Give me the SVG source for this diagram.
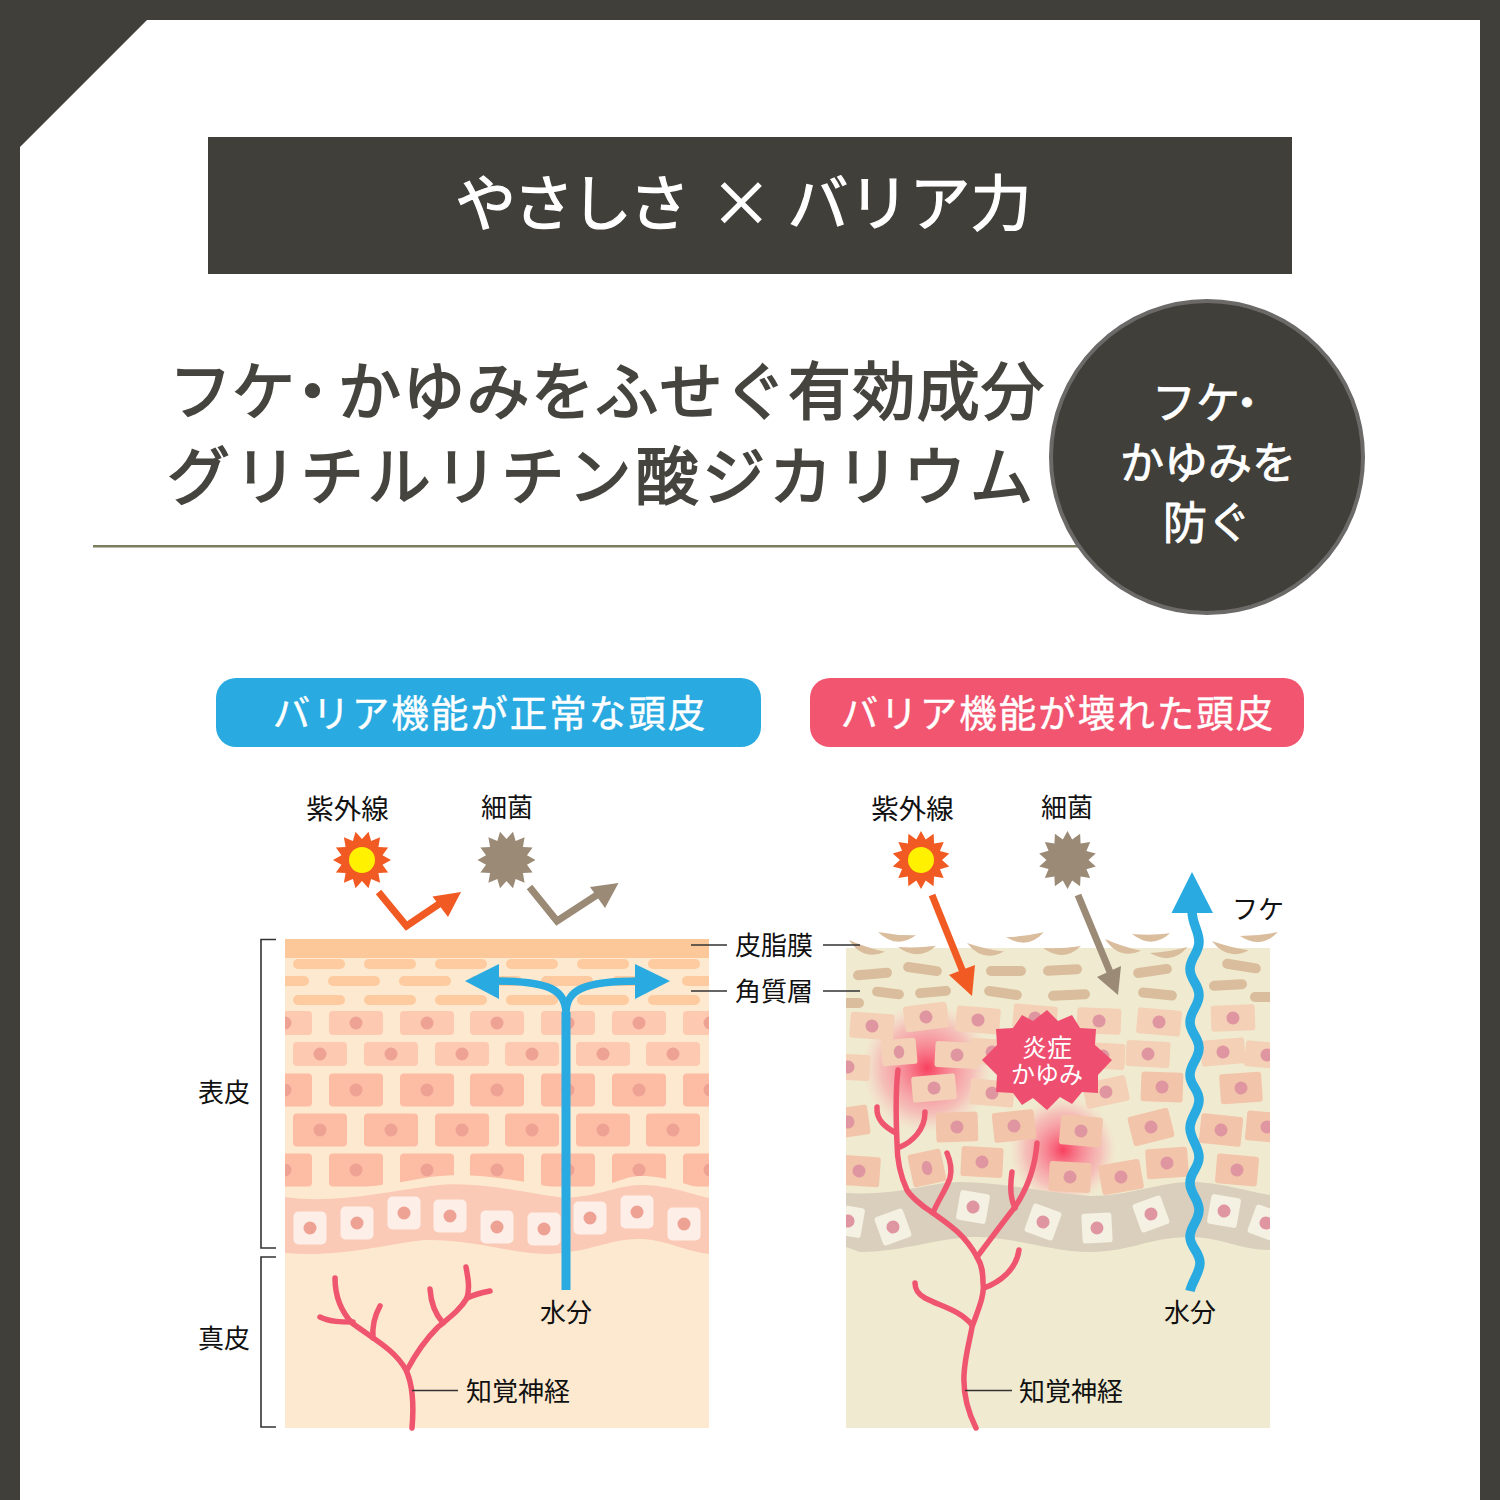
<svg xmlns="http://www.w3.org/2000/svg" width="1500" height="1500" viewBox="0 0 1500 1500">
<style>
text{font-family:"Noto Sans CJK JP","Noto Sans",sans-serif}
.lb{font-size:26px;fill:#111;text-anchor:middle}
.lw{font-size:27.5px}
.hd{font-size:63px;fill:#45443e;stroke:#45443e;stroke-width:1.8px}
.ci{font-size:44px;fill:#fff;stroke:#fff;stroke-width:.8px}
.pl{font-size:37.500px;fill:#fff;text-anchor:middle;letter-spacing:2px;stroke:#fff;stroke-width:.4px}
.ln{stroke:#333;stroke-width:1.6;fill:none}
.nv{stroke:#f0556f;stroke-width:5.500;fill:none;stroke-linecap:round;stroke-linejoin:round}
.s1{fill:#fdcb9f}
.s2{fill:#d9bd9c}
.c1{fill:#fdc9b1}
.c2{fill:#fdbca4}
.n1{fill:#eea294}
.r1{fill:#f3d0b6}
.r2{fill:#f2c5aa}
.n2{fill:#e096a1}
.w1{fill:#fdeee8}
.w2{fill:#f4f0e2}
</style>
<defs>
<clipPath id="pL"><rect x="285" y="939" width="424" height="489"/></clipPath>
<clipPath id="pR"><rect x="846" y="948" width="424" height="480"/></clipPath>
<polygon id="star" points="29,0 20.5,4.700 26.100,12.600 16.400,13.100 18.100,22.700 9.100,18.900 6.500,28.300 0,21 -6.500,28.300 -9.100,18.900 -18.100,22.700 -16.400,13.100 -26.100,12.600 -20.500,4.700 -29,0 -20.500,-4.700 -26.100,-12.600 -16.400,-13.100 -18.100,-22.700 -9.100,-18.900 -6.500,-28.300 0,-21 6.500,-28.300 9.100,-18.900 18.100,-22.700 16.400,-13.100 26.100,-12.600 20.500,-4.700"/>
<rect id="st" x="0" y="0" width="52" height="10" rx="5"/>
<g id="cA"><rect x="-27" y="-12" width="54" height="24" rx="4" class="c1"/><circle r="6.500" class="n1"/></g>
<g id="cB"><rect x="-27" y="-16.500" width="54" height="33" rx="4" class="c2"/><circle r="6.500" class="n1"/></g>
<g id="wL"><rect x="-16.500" y="-16.500" width="33" height="33" rx="5" class="w1"/><circle r="6.500" class="n1"/></g>
<g id="rA"><rect x="-22" y="-13" width="44" height="26" rx="3" class="r1"/><circle r="6.500" class="n2"/></g>
<g id="rB"><rect x="-21" y="-15" width="42" height="30" rx="3" class="r2"/><circle r="6.500" class="n2"/></g>
<g id="wR"><rect x="-15" y="-15" width="30" height="30" rx="3" class="w2"/><circle r="6.500" class="n2"/></g>
<path id="fl" d="M0,0 Q19,17 38,2 Q19,3 0,0Z"/>
<radialGradient id="gw"><stop offset="0" stop-color="#f8405f"/><stop offset=".3" stop-color="#f9607c" stop-opacity=".75"/><stop offset=".7" stop-color="#fb8a9c" stop-opacity=".45"/><stop offset="1" stop-color="#fbb" stop-opacity="0"/></radialGradient>
</defs>

<rect id="frame" width="1500" height="1500" fill="#403f39"/>
<polygon id="sheet" points="147,20 1480,20 1480,1500 20,1500 20,147" fill="#fff"/>

<g id="banner">
<rect x="208" y="137" width="1084" height="137" fill="#403f39"/>
<text x="455" y="226" font-size="61" fill="#fff" stroke="#fff" stroke-width="1.200" dx="0 -3 -3 -3 0 7 0 2" xml:space="preserve">やさしさ × バリア力</text>
</g>

<g id="heading">
<text class="hd" x="169" y="414" dx="0 0 -14 -6 1.300 1.300 1.300 1.300 1.300 1.300 1.300 1.300 1.300 1.300">フケ・かゆみをふせぐ有効成分</text>
<text class="hd" x="167" y="499" textLength="866">グリチルリチン酸ジカリウム</text>
<rect x="93" y="545" width="990" height="2.500" fill="#7b7d5f"/>
</g>

<g id="badge">
<circle cx="1207" cy="457" r="156" fill="#403f39" stroke="#6b6a68" stroke-width="4"/>
<text class="ci" x="1152" y="419" dx="0 0 -15">フケ・</text>
<text class="ci" x="1208" y="479" text-anchor="middle">かゆみを</text>
<text class="ci" x="1207" y="539" text-anchor="middle">防ぐ</text>
</g>

<g id="pill-normal">
<rect x="216" y="678" width="545" height="69" rx="20" fill="#29aae1"/>
<text class="pl" x="490" y="727">バリア機能が正常な頭皮</text>
</g>
<g id="pill-damaged">
<rect x="810" y="678" width="494" height="69" rx="20" fill="#f1556f"/>
<text class="pl" x="1058" y="727">バリア機能が壊れた頭皮</text>
</g>

<!-- healthy scalp cross-section -->
<g id="skin-normal" clip-path="url(#pL)">
<rect x="285" y="939" width="424" height="489" fill="#fde9cf"/>
<rect x="285" y="939" width="424" height="19" fill="#fdc899"/>
<g class="s1">
<use href="#st" x="293" y="959"/><use href="#st" x="364" y="959"/><use href="#st" x="435" y="959"/><use href="#st" x="506" y="959"/><use href="#st" x="577" y="959"/><use href="#st" x="648" y="959"/>
<use href="#st" x="257" y="976"/><use href="#st" x="328" y="976"/><use href="#st" x="399" y="976"/><use href="#st" x="470" y="976"/><use href="#st" x="541" y="976"/><use href="#st" x="612" y="976"/><use href="#st" x="682" y="976"/>
<use href="#st" x="293" y="995"/><use href="#st" x="364" y="995"/><use href="#st" x="435" y="995"/><use href="#st" x="506" y="995"/><use href="#st" x="577" y="995"/><use href="#st" x="648" y="995"/>
</g>
<use href="#cA" x="285" y="1023"/><use href="#cA" x="356" y="1023"/><use href="#cA" x="427" y="1023"/><use href="#cA" x="497" y="1023"/><use href="#cA" x="568" y="1023"/><use href="#cA" x="639" y="1023"/><use href="#cA" x="710" y="1023"/>
<use href="#cA" x="320" y="1054"/><use href="#cA" x="391" y="1054"/><use href="#cA" x="462" y="1054"/><use href="#cA" x="532" y="1054"/><use href="#cA" x="603" y="1054"/><use href="#cA" x="673" y="1054"/>
<use href="#cB" x="285" y="1090"/><use href="#cB" x="356" y="1090"/><use href="#cB" x="427" y="1090"/><use href="#cB" x="497" y="1090"/><use href="#cB" x="568" y="1090"/><use href="#cB" x="639" y="1090"/><use href="#cB" x="710" y="1090"/>
<use href="#cB" x="320" y="1130"/><use href="#cB" x="391" y="1130"/><use href="#cB" x="462" y="1130"/><use href="#cB" x="532" y="1130"/><use href="#cB" x="603" y="1130"/><use href="#cB" x="673" y="1130"/>
<use href="#cB" x="285" y="1170"/><use href="#cB" x="356" y="1170"/><use href="#cB" x="427" y="1170"/><use href="#cB" x="497" y="1170"/><use href="#cB" x="568" y="1170"/><use href="#cB" x="639" y="1170"/><use href="#cB" x="710" y="1170"/>
<path d="M285,1188 C330,1194 380,1186 430,1177 C470,1172 510,1178 565,1190 C600,1194 620,1176 640,1176 C670,1176 690,1187 709,1190 V1215 H285Z" fill="#fde9cf"/>
<path d="M285,1197 C335,1204 385,1192 430,1186 C475,1180 520,1192 565,1198 C600,1196 620,1185 640,1185 C670,1185 690,1194 709,1198 V1254 C680,1250 665,1239 638,1239 C610,1239 590,1252 550,1254 C510,1254 480,1240 425,1240 C385,1244 340,1258 285,1253Z" fill="#fbcab6"/>
<use href="#wL" x="310" y="1228"/><use href="#wL" x="357" y="1223"/><use href="#wL" x="404" y="1213"/><use href="#wL" x="450" y="1216"/><use href="#wL" x="497" y="1227"/><use href="#wL" x="544" y="1229"/><use href="#wL" x="590" y="1218"/><use href="#wL" x="637" y="1212"/><use href="#wL" x="684" y="1224"/>
</g>

<!-- damaged scalp cross-section -->
<g id="skin-damaged" clip-path="url(#pR)">
<rect x="846" y="948" width="424" height="480" fill="#f0ebd0"/>
<g class="s2">
<rect x="853" y="969" width="39" height="10" rx="5" transform="rotate(-5 872 974)"/>
<rect x="903" y="964" width="39" height="10" rx="5" transform="rotate(8 922 969)"/>
<rect x="872" y="988" width="32" height="10" rx="5" transform="rotate(7 888 993)"/>
<rect x="915" y="987" width="36" height="10" rx="5" transform="rotate(-5 933 992)"/>
<rect x="836" y="998" width="28" height="10" rx="5"/>
<rect x="986" y="966" width="40" height="10" rx="5"/>
<rect x="1043" y="965" width="39" height="10" rx="5" transform="rotate(-3 1062 970)"/>
<rect x="984" y="988" width="38" height="10" rx="5" transform="rotate(8 1003 993)"/>
<rect x="1048" y="990" width="42" height="10" rx="5" transform="rotate(-3 1069 995)"/>
<rect x="1133" y="966" width="39" height="10" rx="5" transform="rotate(-8 1152 971)"/>
<rect x="1138" y="989" width="39" height="10" rx="5" transform="rotate(6 1157 994)"/>
<rect x="1222" y="961" width="39" height="10" rx="5" transform="rotate(9 1241 966)"/>
<rect x="1209" y="980" width="38" height="10" rx="5" transform="rotate(-3 1228 985)"/>
<rect x="1250" y="992" width="40" height="10" rx="5"/>
</g>
<circle cx="927" cy="1068" r="66" fill="url(#gw)"/>
<circle cx="1063" cy="1150" r="54" fill="url(#gw)"/>
<use href="#rA" transform="translate(872 1026) rotate(4)"/>
<use href="#rA" transform="translate(926 1017) rotate(-7)"/>
<use href="#rA" transform="translate(978 1020) rotate(5)"/>
<use href="#rA" transform="translate(1035 1018) rotate(5)"/>
<use href="#rA" transform="translate(1099 1021) rotate(2)"/>
<use href="#rA" transform="translate(1159 1022) rotate(5)"/>
<use href="#rA" transform="translate(1233 1018) rotate(-2)"/>
<use href="#rA" transform="translate(848 1067) rotate(3)"/>
<use href="#rA" transform="translate(899 1052) rotate(-5) scale(.8 1)"/>
<use href="#rA" transform="translate(957 1055) rotate(3)"/>
<use href="#rA" transform="translate(992 1052) rotate(3)"/>
<use href="#rA" transform="translate(1103 1056) rotate(3)"/>
<use href="#rA" transform="translate(1148 1054) rotate(3)"/>
<use href="#rA" transform="translate(1223 1052) rotate(-5)"/>
<use href="#rA" transform="translate(1267 1055) rotate(5)"/>
<use href="#rA" transform="translate(934 1088) rotate(-5)"/>
<use href="#rA" transform="translate(992 1093) rotate(5)"/>
<use href="#rA" transform="translate(1106 1092) rotate(-12)"/>
<use href="#rB" transform="translate(1162 1087) rotate(2)"/>
<use href="#rB" transform="translate(1241 1088) rotate(-4)"/>
<use href="#rB" transform="translate(848 1122) rotate(-8)"/>
<use href="#rB" transform="translate(957 1127) rotate(-2)"/>
<use href="#rB" transform="translate(1014 1126) rotate(-6)"/>
<use href="#rB" transform="translate(1081 1131) rotate(5)"/>
<use href="#rB" transform="translate(1151 1127) rotate(-14)"/>
<use href="#rB" transform="translate(1221 1130) rotate(6)"/>
<use href="#rB" transform="translate(1267 1127) rotate(5)"/>
<use href="#rB" transform="translate(859 1171) rotate(4)"/>
<use href="#rB" transform="translate(927 1168) rotate(-12) scale(.8 1.1)"/>
<use href="#rB" transform="translate(982 1162) rotate(3)"/>
<use href="#rB" transform="translate(1070 1177) rotate(3)"/>
<use href="#rB" transform="translate(1121 1177) rotate(-10)"/>
<use href="#rB" transform="translate(1167 1163) rotate(-4)"/>
<use href="#rB" transform="translate(1237 1170) rotate(5)"/>
<path d="M846,1193 C900,1196 930,1182 960,1182 C1000,1182 1040,1192 1090,1196 C1130,1196 1160,1182 1190,1182 C1220,1182 1250,1192 1270,1195 V1250 C1240,1250 1220,1237 1190,1237 C1150,1237 1130,1252 1090,1252 C1050,1252 1020,1237 970,1237 C930,1240 900,1252 860,1252 L846,1247Z" fill="#d9cfbc"/>
<use href="#wR" transform="translate(848 1221) rotate(10)"/>
<use href="#wR" transform="translate(893 1227) rotate(-20)"/>
<use href="#wR" transform="translate(973 1207) rotate(10)"/>
<use href="#wR" transform="translate(1043 1222) rotate(20)"/>
<use href="#wR" transform="translate(1097 1228) rotate(-3)"/>
<use href="#wR" transform="translate(1151 1214) rotate(-20)"/>
<use href="#wR" transform="translate(1224 1211) rotate(10)"/>
<use href="#wR" transform="translate(1266 1223) rotate(20)"/>
</g>

<g id="flakes" class="s2">
<use href="#fl" transform="translate(849 940) rotate(15)"/>
<use href="#fl" transform="translate(878 932) rotate(2)"/>
<use href="#fl" transform="translate(898 947) rotate(-5)"/>
<use href="#fl" transform="translate(967 943) rotate(10)"/>
<use href="#fl" transform="translate(1006 937) rotate(-10)"/>
<use href="#fl" transform="translate(1043 948) rotate(-6)"/>
<use href="#fl" transform="translate(1105 939) rotate(15)"/>
<use href="#fl" transform="translate(1132 934) rotate(-4)"/>
<use href="#fl" transform="translate(1150 953) rotate(-12)"/>
<use href="#fl" transform="translate(1212 941) rotate(11)"/>
<use href="#fl" transform="translate(1240 936) rotate(-9)"/>
</g>

<g id="nerves">
<path class="nv" d="M412,1428 C414,1405 413,1385 406,1370 C395,1350 375,1340 352,1323 C340,1310 335,1295 335,1278"/>
<path class="nv" d="M353,1322 C342,1322 330,1322 320,1317"/>
<path class="nv" d="M373,1338 C372,1325 375,1315 380,1306"/>
<path class="nv" d="M407,1370 C415,1355 425,1340 438,1327 C450,1317 460,1310 467,1298 C470,1288 468,1278 466,1267"/>
<path class="nv" d="M467,1298 C473,1295 480,1293 490,1291"/>
<path class="nv" d="M443,1323 C436,1315 431,1305 430,1289"/>
<path class="nv" d="M976,1428 C968,1412 963,1395 964,1375 C965,1355 970,1340 972,1327 C978,1310 985,1295 983,1283 C983,1272 982,1265 977,1257 C965,1235 950,1225 933,1213 C920,1205 910,1195 907,1190 C900,1175 897,1160 897,1143 C896,1120 895,1095 898,1070"/>
<path class="nv" d="M977,1257 C990,1240 1003,1222 1015,1207 C1025,1192 1035,1170 1037,1143"/>
<path class="nv" d="M1015,1208 C1010,1198 1010,1185 1012,1172"/>
<path class="nv" d="M933,1213 C938,1200 945,1192 950,1178 C952,1170 950,1160 947,1153"/>
<path class="nv" d="M900,1147 C912,1142 925,1130 925,1112"/>
<path class="nv" d="M896,1133 C885,1127 876,1120 877,1107"/>
<path class="nv" d="M984,1288 C1000,1282 1016,1270 1019,1250"/>
<path class="nv" d="M972,1325 C960,1310 940,1306 925,1298 C918,1294 915,1290 915,1283"/>
</g>

<g id="burst">
<polygon points="1047,1010 1058,1021 1072,1015 1080,1028 1096,1029 1095,1045 1112,1060 1098,1075 1098,1093 1082,1092 1072,1104 1060,1097 1047,1110 1033,1098 1022,1105 1013,1093 996,1092 997,1075 982,1060 997,1045 996,1029 1013,1028 1022,1015 1033,1021" fill="#ee4f70"/>
<text x="1047" y="1057" font-size="25" fill="#fff" text-anchor="middle">炎症</text>
<text x="1047" y="1083" font-size="24" fill="#fff" text-anchor="middle">かゆみ</text>
</g>

<g id="uv-normal"><use href="#star" x="362" y="860" fill="#f15a22"/><circle cx="362" cy="860" r="13" fill="#fff100"/></g>
<g id="germ-normal"><use href="#star" x="506.500" y="860" fill="#9a8a76"/></g>
<g id="uv-damaged"><use href="#star" transform="translate(921 860) rotate(12.860)" fill="#f15a22"/><circle cx="921" cy="860" r="13" fill="#fff100"/></g>
<g id="germ-damaged"><use href="#star" transform="translate(1067.500 860) rotate(12.860)" fill="#9a8a76"/></g>

<g id="connectors">
<path d="M378.500,892 L406.500,926 L442,902" fill="none" stroke="#f15a22" stroke-width="7"/>
<polygon points="461,892 432.500,896.500 448,917" fill="#f15a22"/>
<path d="M529.500,887 L557,921 L600,893" fill="none" stroke="#9a8a76" stroke-width="7"/>
<polygon points="618.500,883 590,887 605,908" fill="#9a8a76"/>
<path d="M932,895 L963,972" fill="none" stroke="#f15a22" stroke-width="7"/>
<polygon points="972,996 949,975 975,965" fill="#f15a22"/>
<path d="M1078,895 L1110,972" fill="none" stroke="#9a8a76" stroke-width="7"/>
<polygon points="1118,995 1097,977 1121,966" fill="#9a8a76"/>
<path d="M566,1290 V1012" fill="none" stroke="#29aae1" stroke-width="9"/>
<path d="M566,1014 C566,990 550,981 495,981 M566,1014 C566,990 582,981 640,981" fill="none" stroke="#29aae1" stroke-width="7.500"/>
<polygon points="465,981 499,964 499,999" fill="#29aae1"/>
<polygon points="670,981 635,964 635,999" fill="#29aae1"/>
<path d="M1190,1291 C1192,1282 1200,1272 1200,1263 C1200,1252 1190,1247 1190,1237 C1190,1226 1199,1221 1199,1210 C1199,1199 1190,1194 1190,1183 C1190,1172 1199,1168 1199,1157 C1199,1146 1190,1139 1190,1128 C1190,1117 1199,1111 1199,1100 C1199,1089 1190,1086 1190,1075 C1190,1064 1199,1059 1199,1048 C1199,1037 1190,1033 1190,1022 C1190,1011 1199,1006 1199,995 C1199,984 1190,980 1190,969 C1190,958 1199,953 1199,942 C1199,930 1192,925 1192,910" fill="none" stroke="#29aae1" stroke-width="9.500"/>
<polygon points="1192,872 1171.500,913 1213,913" fill="#29aae1"/>
<path class="ln" d="M276,939.500 H261 V1248 H276 M276,1257 H261 V1427 H276"/>
<path class="ln" d="M691,945 H727 M823,945 H860 M691,991 H727 M823,991 H860 M412,1390.500 H458 M965,1390.500 H1012"/>
</g>

<g id="labels">
<text class="lb lw" x="347.500" y="819">紫外線</text>
<text class="lb" x="507" y="817">細菌</text>
<text class="lb" x="774" y="955">皮脂膜</text>
<text class="lb" x="774" y="1001">角質層</text>
<text class="lb" x="224" y="1102">表皮</text>
<text class="lb" x="224" y="1348">真皮</text>
<text class="lb" x="566" y="1322">水分</text>
<text class="lb" x="518" y="1401">知覚神経</text>
<text class="lb lw" x="912.500" y="819">紫外線</text>
<text class="lb" x="1067" y="817">細菌</text>
<text class="lb" x="1258" y="919">フケ</text>
<text class="lb" x="1190" y="1322">水分</text>
<text class="lb" x="1071" y="1401">知覚神経</text>
</g>
</svg>
